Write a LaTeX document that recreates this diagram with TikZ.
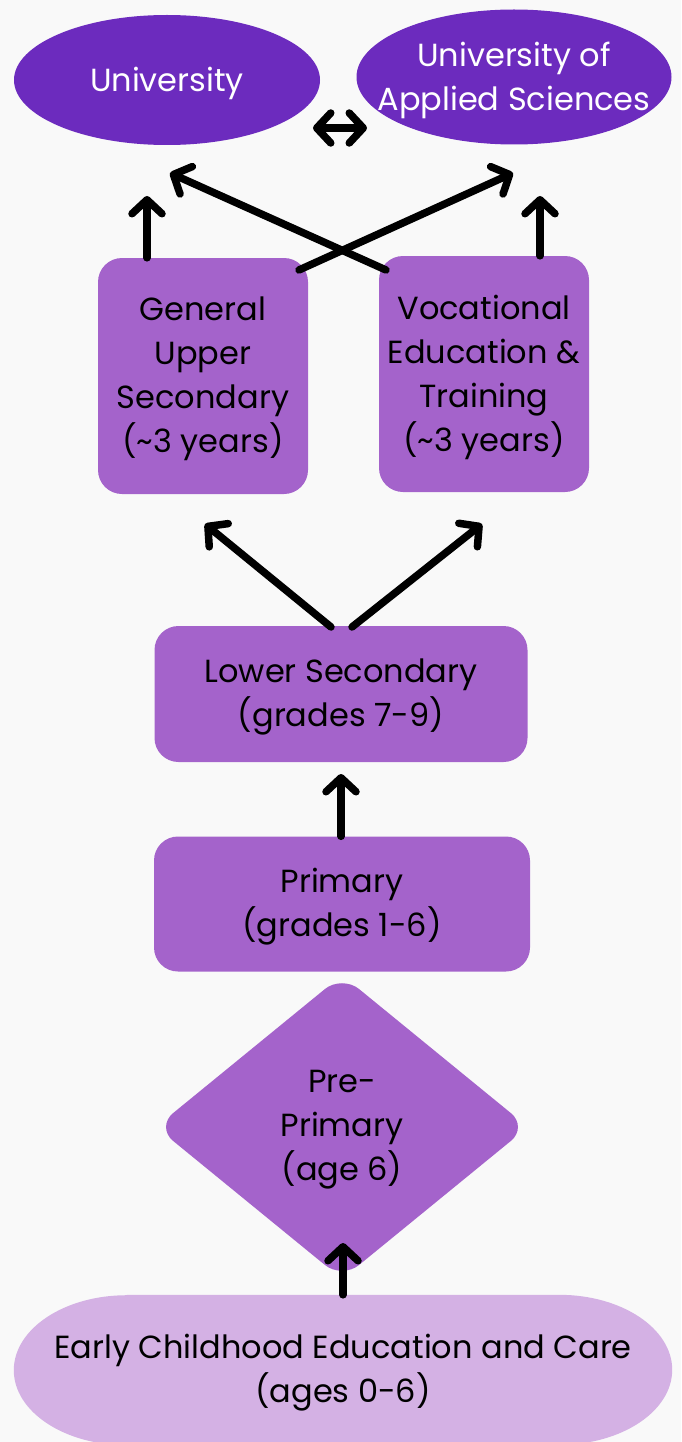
\documentclass[tikz,border=0pt]{standalone}
\usepackage{fontspec}
\setmainfont{Poppins}
\usetikzlibrary{arrows.meta,shapes.geometric,calc}
\definecolor{bg}{HTML}{F9F9F9}
\definecolor{darkp}{HTML}{6C2BBE}
\definecolor{midp}{HTML}{A463CB}
\definecolor{lightp}{HTML}{D4B1E4}
\tikzset{
  txt/.style={font=\fontsize{32}{44}\selectfont, align=center, inner sep=0pt, yshift=-3pt},
  darkell/.style={ellipse, fill=darkp, inner sep=0pt},
  boxnode/.style={rectangle, rounded corners=24pt, fill=midp, text=black, inner sep=0pt},
  mybarb/.tip={Straight Barb[round, length=14pt, width=30pt, line width=7.5pt]},
  arr/.style={line width=7.5pt, line cap=round, -{mybarb}},
  darr/.style={line width=7.5pt, line cap=round, {mybarb}-{mybarb}}
}
\begin{document}
\begin{tikzpicture}[x=1pt,y=-1pt]
\fill[bg] (0,0) rectangle (681,1442);
\useasboundingbox (0,0) rectangle (681,1442);
% nodes
\node[darkell, minimum width=306pt, minimum height=130pt] (uni) at (167,80) {};
\node[txt, text=white] (unit) at (uni) {University};
\node[darkell, minimum width=315pt, minimum height=135pt] (uas) at (514,77) {};
\node[txt, text=white] (uast) at (uas) {University of\\Applied Sciences};
\node[boxnode, minimum width=210pt, minimum height=236pt] (gus) at (203,376) {};
\node[txt] (gust) at (gus) {General\\Upper\\Secondary\\(\textasciitilde 3 years)};
\node[boxnode, minimum width=210pt, minimum height=236pt] (vet) at (484,374) {};
\node[txt] (vett) at (vet) {Vocational\\Education \&\\Training\\(\textasciitilde 3 years)};
\node[boxnode, minimum width=373pt, minimum height=136pt] (low) at (341,694) {};
\node[txt] (lowt) at (low) {Lower Secondary\\(grades 7-9)};
\node[boxnode, minimum width=376pt, minimum height=135pt] (pri) at (342,904) {};
\node[txt] (prit) at (pri) {Primary\\(grades 1-6)};
\node[diamond, fill=midp, rounded corners=22pt, minimum width=372pt, minimum height=304pt, inner sep=0pt] (pre) at (342,1127) {};
\node[txt] (pret) at (pre) {Pre-\\Primary\\(age 6)};
\node[rectangle, minimum width=658pt, minimum height=150pt, inner sep=0pt] (ecec) at (343,1370) {};
\fill[lightp] ($(ecec.north west)+(113,0)$) -- ($(ecec.north east)+(-113,0)$)
  arc[start angle=-90, end angle=90, x radius=113, y radius=75]
  -- ($(ecec.south west)+(113,0)$)
  arc[start angle=90, end angle=270, x radius=113, y radius=75] -- cycle;
\node[txt] (ecect) at (ecec) {Early Childhood Education and Care\\(ages 0-6)};
% coordinates
\coordinate (d1) at (313,128);
\coordinate (d2) at (367,128);
\coordinate (t1) at (147,196);
\coordinate (t2) at (540,196);
\coordinate (t3) at (170,173);
\coordinate (t4) at (513,173);
\coordinate (s1) at (386,270);
\coordinate (s2) at (299,270);
\coordinate (t5) at (205,524);
\coordinate (t6) at (482,524);
\coordinate (s3) at (331,627);
\coordinate (s4) at (352,627);
\coordinate (t7) at (341,774);
\coordinate (t8) at (343,1243);
% connectors
\draw[darr] (d1) -- (d2);
\draw[arr] (gus.north -| t1) -- (t1);
\draw[arr] (vet.north -| t2) -- (t2);
\draw[arr] (s1) -- (t3);
\draw[arr] (s2) -- (t4);
\draw[arr] (s3) -- (t5);
\draw[arr] (s4) -- (t6);
\draw[arr] (pri.north -| t7) -- (t7);
\draw[arr] (ecec.north -| t8) -- (t8);
\end{tikzpicture}
\end{document}
